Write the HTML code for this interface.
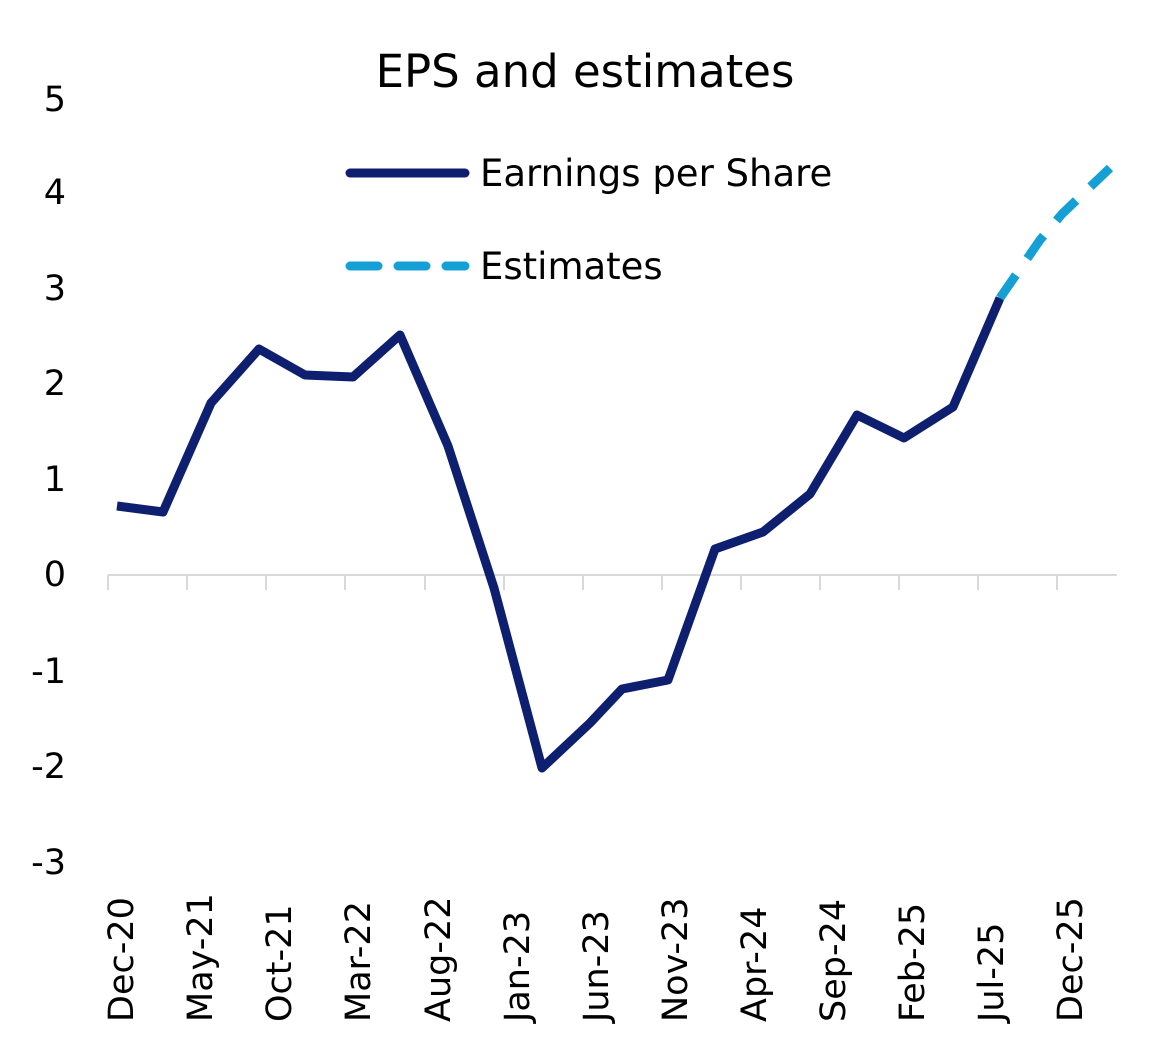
<!DOCTYPE html>
<html><head><meta charset="utf-8"><style>body{margin:0;background:#fff}svg{display:block}text{font-family:"DejaVu Sans","Liberation Sans",sans-serif;fill:#000}</style></head>
<body>
<svg width="1169" height="1052" viewBox="0 0 1169 1052">
<text x="585" y="87" font-size="45" text-anchor="middle">EPS and estimates</text>
<g font-size="35" text-anchor="end">
<text x="66" y="111">5</text><text x="66" y="204">4</text><text x="66" y="300">3</text><text x="66" y="395">2</text><text x="66" y="491">1</text><text x="66" y="586">0</text><text x="66" y="683">-1</text><text x="66" y="778">-2</text><text x="66" y="874">-3</text>
</g>
<line x1="108" y1="575" x2="1117" y2="575" stroke="#d9d9d9" stroke-width="2"/>
<g stroke="#d9d9d9" stroke-width="2">
<line x1="108" y1="575" x2="108" y2="590"/><line x1="187" y1="575" x2="187" y2="590"/><line x1="266" y1="575" x2="266" y2="590"/><line x1="345" y1="575" x2="345" y2="590"/><line x1="425" y1="575" x2="425" y2="590"/><line x1="504" y1="575" x2="504" y2="590"/><line x1="583" y1="575" x2="583" y2="590"/><line x1="662" y1="575" x2="662" y2="590"/><line x1="741" y1="575" x2="741" y2="590"/><line x1="820" y1="575" x2="820" y2="590"/><line x1="899" y1="575" x2="899" y2="590"/><line x1="978" y1="575" x2="978" y2="590"/><line x1="1057" y1="575" x2="1057" y2="590"/>
</g>
<g font-size="35" text-anchor="start">
<text transform="translate(133,1022) rotate(-90)">Dec-20</text>
<text transform="translate(212,1022) rotate(-90)">May-21</text>
<text transform="translate(291,1022) rotate(-90)">Oct-21</text>
<text transform="translate(370,1022) rotate(-90)">Mar-22</text>
<text transform="translate(450,1022) rotate(-90)">Aug-22</text>
<text transform="translate(529,1022) rotate(-90)">Jan-23</text>
<text transform="translate(608,1022) rotate(-90)">Jun-23</text>
<text transform="translate(687,1022) rotate(-90)">Nov-23</text>
<text transform="translate(766,1022) rotate(-90)">Apr-24</text>
<text transform="translate(845,1022) rotate(-90)">Sep-24</text>
<text transform="translate(924,1022) rotate(-90)">Feb-25</text>
<text transform="translate(1003,1022) rotate(-90)">Jul-25</text>
<text transform="translate(1082,1022) rotate(-90)">Dec-25</text>
</g>
<polyline fill="none" stroke="#0d1f6e" stroke-width="9" stroke-linejoin="round" points="117,506 163,512 211,403 259,349 305,375 353,377 400,335 448,446 494,588 542,768 590,723 622,689 668,680 715,549 763,532 810,494 857,415 904,438 953,407 1000,298"/>
<polyline fill="none" stroke="#15a0d5" stroke-width="9" stroke-dasharray="28,20" points="1000,298 1040,240 1062,214 1110,168"/>
<line x1="350" y1="173" x2="465" y2="173" stroke="#0d1f6e" stroke-width="9" stroke-linecap="round"/>
<text x="480" y="186" font-size="37">Earnings per Share</text>
<line x1="350" y1="266" x2="465" y2="266" stroke="#15a0d5" stroke-width="9" stroke-dasharray="28,20" stroke-linecap="round"/>
<text x="480" y="279" font-size="37">Estimates</text>
</svg>
</body></html>
